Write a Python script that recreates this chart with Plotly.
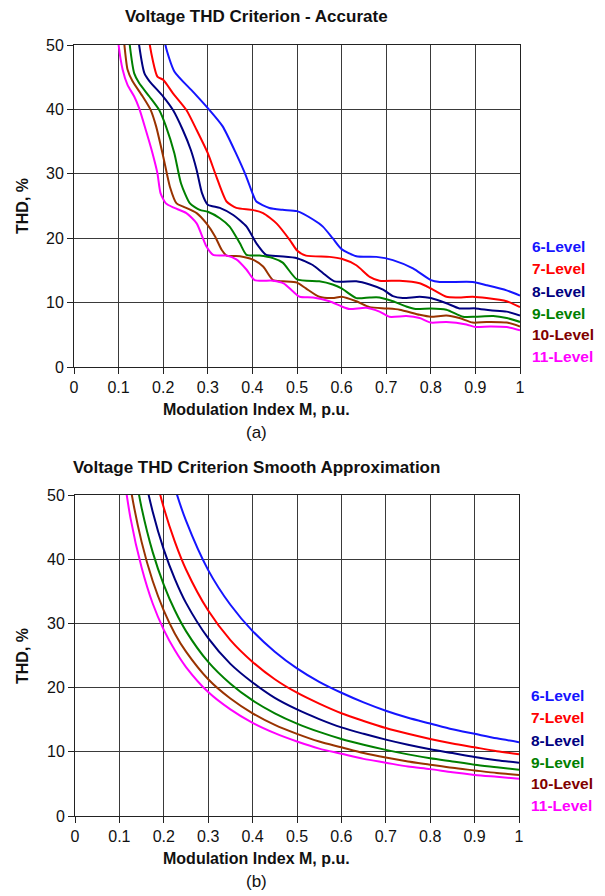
import plotly.graph_objects as go

# The page body adds an 8px margin; the figure is sized and positioned to compensate.
OFF = 8
W, H = 605 - OFF, 896 - OFF

level_names = ["6-Level", "7-Level", "8-Level", "9-Level", "10-Level", "11-Level"]
line_colors = ["#1515ff", "#ff0000", "#000080", "#008000", "#993300", "#ff00ff"]
label_colors = ["#1515ff", "#ff0000", "#000080", "#008000", "#800000", "#ff00ff"]

x_ticks = [0, 0.1, 0.2, 0.3, 0.4, 0.5, 0.6, 0.7, 0.8, 0.9, 1]
x_tick_text = ["0", "0.1", "0.2", "0.3", "0.4", "0.5", "0.6", "0.7", "0.8", "0.9", "1"]
y_ticks = [0, 10, 20, 30, 40, 50]

# ---- (a) accurate criterion ----
acc_x_6 = [0.2, 0.205, 0.225, 0.266, 0.3, 0.333, 0.363, 0.386, 0.4, 0.409, 0.438, 0.468, 0.5, 0.536, 0.558, 0.58, 0.6, 0.633, 0.678, 0.715, 0.76, 0.8, 0.82, 0.894, 0.925, 0.97, 1.0]
acc_y_6 = [54, 50, 45.9, 42.8, 40.2, 37.4, 33.2, 29.6, 27, 25.7, 24.7, 24.4, 24.2, 22.9, 21.8, 20, 18.3, 17.2, 17.1, 16.6, 15.3, 13.5, 13.2, 13.2, 12.7, 11.9, 11.1]

acc_x_7 = [0.165, 0.17, 0.187, 0.2, 0.222, 0.252, 0.275, 0.3, 0.319, 0.342, 0.364, 0.4, 0.424, 0.454, 0.484, 0.5, 0.52, 0.573, 0.6, 0.633, 0.663, 0.685, 0.73, 0.775, 0.8, 0.835, 0.857, 0.894, 0.925, 0.97, 1.0]
acc_y_7 = [54, 50, 45.1, 44.6, 42.5, 39.9, 36.8, 33.2, 29.6, 25.7, 24.7, 24.4, 23.9, 22.3, 19.7, 18.1, 17.3, 17.1, 16.8, 15.8, 14.0, 13.4, 13.4, 13.0, 12.2, 10.9, 10.8, 10.9, 10.7, 10.2, 9.3]

acc_x_8 = [0.14, 0.146, 0.158, 0.169, 0.2, 0.222, 0.244, 0.262, 0.275, 0.287, 0.3, 0.327, 0.357, 0.387, 0.409, 0.431, 0.461, 0.5, 0.536, 0.558, 0.584, 0.633, 0.663, 0.693, 0.715, 0.737, 0.775, 0.8, 0.835, 0.864, 0.9, 0.933, 0.97, 1.0]
acc_y_8 = [54, 50, 45.6, 44.4, 42, 39.9, 36.8, 33.7, 30.6, 27, 25.2, 24.7, 23.6, 21.8, 19.2, 17.4, 17.2, 16.9, 15.8, 14.6, 13.3, 13.3, 12.8, 12.0, 11.0, 10.7, 10.9, 10.7, 9.9, 9.1, 9.1, 8.8, 8.6, 8.0]

acc_x_9 = [0.12, 0.125, 0.135, 0.146, 0.169, 0.191, 0.206, 0.225, 0.24, 0.26, 0.282, 0.3, 0.327, 0.349, 0.372, 0.387, 0.416, 0.446, 0.468, 0.5, 0.55, 0.58, 0.6, 0.633, 0.663, 0.685, 0.715, 0.745, 0.766, 0.8, 0.835, 0.872, 0.9, 0.94, 0.97, 1.0]
acc_y_9 = [54, 50, 45.6, 44.1, 42, 39.9, 37.4, 33.2, 28.5, 25.4, 24.4, 24.1, 23.1, 21.8, 19.2, 17.4, 17.3, 16.9, 16.2, 13.6, 13.3, 12.8, 12.2, 10.7, 10.8, 10.8, 10.2, 9.4, 9.0, 9.1, 8.9, 7.8, 7.8, 7.9, 7.6, 7.0]

acc_x_10 = [0.108, 0.113, 0.12, 0.131, 0.154, 0.172, 0.184, 0.2, 0.215, 0.23, 0.245, 0.275, 0.297, 0.316, 0.331, 0.342, 0.372, 0.4, 0.424, 0.446, 0.468, 0.5, 0.52, 0.55, 0.58, 0.6, 0.633, 0.663, 0.7, 0.73, 0.775, 0.8, 0.835, 0.864, 0.894, 0.925, 0.97, 1.0]
acc_y_10 = [54, 50, 46.2, 44.4, 42, 39.9, 37.4, 32.7, 28, 25.4, 24.9, 23.9, 22.3, 20.3, 18.2, 17.3, 17.2, 16.7, 15.6, 13.5, 13.3, 13.1, 12.2, 10.9, 10.7, 10.9, 10.2, 9.3, 9.1, 8.9, 8.1, 7.8, 8.0, 7.6, 6.9, 7.0, 6.9, 6.3]

acc_x_11 = [0.095, 0.1, 0.109, 0.12, 0.135, 0.146, 0.161, 0.176, 0.187, 0.194, 0.206, 0.225, 0.252, 0.275, 0.297, 0.312, 0.342, 0.364, 0.387, 0.405, 0.446, 0.47, 0.49, 0.506, 0.536, 0.573, 0.6, 0.618, 0.655, 0.685, 0.707, 0.745, 0.775, 0.8, 0.835, 0.88, 0.9, 0.933, 0.97, 1.0]
acc_y_11 = [54, 50, 46.2, 43.8, 42, 40.2, 36.8, 33.2, 30.1, 27, 25.4, 24.7, 23.9, 22.3, 18.7, 17.4, 17.3, 16.7, 15.1, 13.5, 13.4, 13.0, 11.8, 10.9, 10.8, 10.2, 9.4, 9.0, 9.2, 8.6, 7.8, 7.9, 7.6, 6.9, 7.0, 6.6, 6.2, 6.3, 6.2, 5.7]

# ---- (b) smooth approximation ----
smooth_x = [0.1, 0.125, 0.15, 0.175, 0.2, 0.225, 0.25, 0.3, 0.35, 0.4, 0.45, 0.5, 0.55, 0.6, 0.65, 0.7, 0.75, 0.8, 0.85, 0.9, 0.95, 1.0]
smo_y_6 = [None, None, None, 65.7, 57.5, 51.1, 46, 38.3, 32.9, 28.8, 25.6, 23, 20.9, 19.2, 17.7, 16.4, 15.3, 14.4, 13.5, 12.8, 12.1, 11.5]
smo_y_7 = [None, None, 64, 54.9, 48, 42.7, 38.4, 32, 27.4, 24, 21.3, 19.2, 17.5, 16, 14.8, 13.7, 12.8, 12, 11.3, 10.7, 10.1, 9.6]
smo_y_8 = [None, 66.4, 55.3, 47.4, 41.5, 36.9, 33.2, 27.7, 23.7, 20.8, 18.4, 16.6, 15.1, 13.8, 12.8, 11.9, 11.1, 10.4, 9.8, 9.2, 8.7, 8.3]
smo_y_9 = [None, 57.6, 48, 41.1, 36, 32, 28.8, 24, 20.6, 18, 16, 14.4, 13.1, 12, 11.1, 10.3, 9.6, 9, 8.5, 8, 7.6, 7.2]
smo_y_10 = [64, 51.2, 42.7, 36.6, 32, 28.4, 25.6, 21.3, 18.3, 16, 14.2, 12.8, 11.6, 10.7, 9.8, 9.1, 8.5, 8, 7.5, 7.1, 6.7, 6.4]
smo_y_11 = [58, 46.4, 38.7, 33.1, 29, 25.8, 23.2, 19.3, 16.6, 14.5, 12.9, 11.6, 10.5, 9.7, 8.9, 8.3, 7.7, 7.3, 6.8, 6.4, 6.1, 5.8]

acc_series = [(acc_x_6, acc_y_6), (acc_x_7, acc_y_7), (acc_x_8, acc_y_8),
              (acc_x_9, acc_y_9), (acc_x_10, acc_y_10), (acc_x_11, acc_y_11)]
smo_series = [smo_y_6, smo_y_7, smo_y_8, smo_y_9, smo_y_10, smo_y_11]

fig = go.Figure()
for i, (xs, ys) in enumerate(acc_series):
    fig.add_trace(go.Scatter(x=xs, y=ys, mode="lines", name=level_names[i],
                             line=dict(color=line_colors[i], width=2, shape="spline", smoothing=0.6),
                             xaxis="x", yaxis="y", showlegend=False))
for i, ys in enumerate(smo_series):
    fig.add_trace(go.Scatter(x=smooth_x, y=ys, mode="lines", name=level_names[i],
                             line=dict(color=line_colors[i], width=2, shape="spline", smoothing=0.8),
                             connectgaps=False,
                             xaxis="x2", yaxis="y2", showlegend=False))

FONT = "Liberation Sans, Arial, sans-serif"

def px_x(p):
    return (p - OFF) / W

def px_y(p):
    return 1 - (p - OFF) / H

axis_common = dict(
    showgrid=True, gridcolor="#3a3a3a", gridwidth=1,
    showline=True, linecolor="#222", linewidth=1, mirror=True,
    ticks="outside", ticklen=6, tickcolor="#222",
    tickfont=dict(family=FONT, size=16, color="#111"),
    zeroline=False, fixedrange=True, automargin=False,
)

fig.update_layout(
    width=W, height=H,
    margin=dict(l=0, r=0, t=0, b=0, autoexpand=False),
    paper_bgcolor="white", plot_bgcolor="white",
    xaxis=dict(domain=[px_x(74), px_x(520)], anchor="y", range=[0, 1],
               tickvals=x_ticks, ticktext=x_tick_text, **axis_common),
    yaxis=dict(domain=[px_y(367), px_y(45)], anchor="x", range=[0, 50],
               tickvals=y_ticks, **axis_common),
    xaxis2=dict(domain=[px_x(75), px_x(519)], anchor="y2", range=[0, 1],
                tickvals=x_ticks, ticktext=x_tick_text, **axis_common),
    yaxis2=dict(domain=[px_y(816), px_y(495)], anchor="x2", range=[0, 50],
                tickvals=y_ticks, **axis_common),
)

annotations = []

def text_at(txt, xp, yp, size, bold=True, color="#111", xanchor="center", angle=0):
    annotations.append(dict(
        text=("<b>%s</b>" % txt) if bold else txt,
        x=px_x(xp), y=px_y(yp), xref="paper", yref="paper",
        xanchor=xanchor, yanchor="middle", showarrow=False, textangle=angle,
        font=dict(family=FONT, size=size, color=color),
    ))

text_at("Voltage THD Criterion - Accurate", 257, 17, 17)
text_at("Modulation Index M, p.u.", 257, 409, 16)
text_at("(a)", 257, 432, 17, bold=False)
text_at("THD, %", 22, 206, 16, angle=-90)

text_at("Voltage THD Criterion Smooth Approximation", 257, 467, 17)
text_at("Modulation Index M, p.u.", 257, 858, 16)
text_at("(b)", 257, 881, 17, bold=False)
text_at("THD, %", 22, 656, 16, angle=-90)

top_label_y = [246, 268, 291, 313, 334, 356]
bot_label_y = [695, 717, 740, 762, 783, 805]
for i, name in enumerate(level_names):
    text_at(name, 530, top_label_y[i], 15.5, color=label_colors[i], xanchor="left")
    text_at(name, 529, bot_label_y[i], 15.5, color=label_colors[i], xanchor="left")

fig.update_layout(annotations=annotations)

fig.write_html("out.html")
